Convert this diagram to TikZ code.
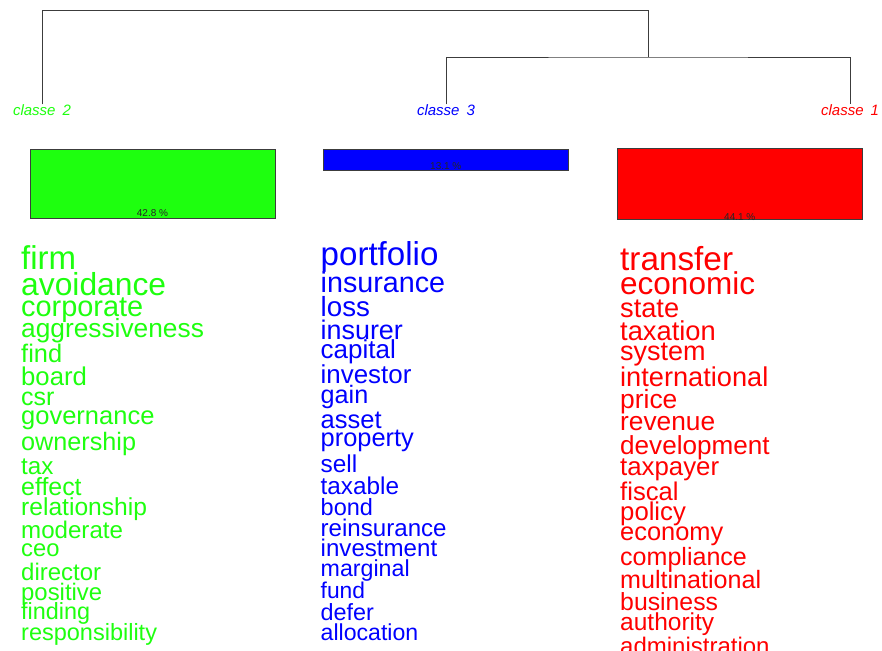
\documentclass[tikz,border=0pt]{standalone}
\usepackage{fontspec}
\setmainfont{Liberation Sans}
\usetikzlibrary{calc}
\definecolor{cgreen}{RGB}{30,255,15}
\definecolor{cblue}{RGB}{0,0,255}
\definecolor{cred}{RGB}{255,0,0}
\definecolor{tree}{RGB}{60,60,60}
\tikzset{
  dendro/.style={draw=tree, line width=0.9pt},
  classlabel/.style={anchor=base, inner sep=0pt, font=\fontsize{15}{15}\selectfont\itshape},
  barbox/.style={draw=tree, line width=0.8pt, rectangle, inner sep=0pt},
  pct/.style={anchor=base, inner sep=0pt, text=black!85, font=\fontsize{10}{10}\selectfont},
  word/.style={anchor=base west, inner sep=0pt}
}
\begin{document}
\begin{tikzpicture}[x=1pt,y=-1pt]
\useasboundingbox (0,0) rectangle (882,650);
\clip (0,0) rectangle (882,650);
\fill[white] (0,0) rectangle (882,650);

% class labels
\node[classlabel, text=cgreen] (c2) at (42,115.5) {classe\hspace{7pt}2};
\node[classlabel, text=cblue] (c3) at (446,115.5) {classe\hspace{7pt}3};
\node[classlabel, text=cred] (c1) at (850,115.5) {classe\hspace{7pt}1};

% dendrogram
\coordinate (j1) at (648,10);
\coordinate (j2) at (648,57);
\draw[dendro] (c2.north) |- (j1) -- (j2);
\draw[dendro] (c3.north) |- (j2) -| (c1.north);

% bars
\node[barbox, fill=cgreen, minimum width=245pt, minimum height=69pt] (b2) at (152.5,183.5) {};
\node[barbox, fill=cblue, minimum width=245pt, minimum height=21pt] (b3) at (445.8,159.5) {};
\node[barbox, fill=cred, minimum width=245pt, minimum height=70.5pt] (b1) at (739.8,183.7) {};
\node[pct] (p2) at ($(b2.south)+(0,-1.5)$) {42.8 \%};
\node[pct] (p3) at ($(b3.south)+(0,-0.7)$) {13.1 \%};
\node[pct] (p1) at ($(b1.south)+(0,1)$) {44.1 \%};

% green words
\foreach \t/\s/\y [count=\i] in {
 firm/33/269.5, avoidance/31.8/295, corporate/28.9/316, aggressiveness/26.3/337.7,
 find/25.4/362.7, board/25.7/385, csr/25/405, governance/25.5/424,
 ownership/25.2/450.5, tax/24.2/474, effect/24.9/495, relationship/24.6/515,
 moderate/24.1/538, ceo/23.8/556.7, director/24/580, positive/23.9/600,
 finding/23.4/619.3, responsibility/23.5/640.7}
 \node[word, text=cgreen, font=\fontsize{\s}{\s}\selectfont] (g\i) at (21,\y) {\t};

% blue words
\foreach \t/\s/\y [count=\i] in {
 portfolio/33.1/265.7, insurance/28.7/292.7, loss/27.7/316, insurer/26.9/339,
 capital/26/358.3, investor/25.9/383, gain/25.2/403, asset/25.5/428.3,
 property/25.4/446.7, sell/24.4/472.7, taxable/24.3/494, bond/23.5/515,
 reinsurance/24.1/536.7, investment/24.1/556.7, marginal/23.2/576.7, fund/22.8/598.3,
 defer/23.4/620, allocation/23.1/640}
 \node[word, text=cblue, font=\fontsize{\s}{\s}\selectfont] (u\i) at (320.5,\y) {\t};

% red words
\foreach \t/\s/\y [count=\i] in {
 transfer/33.3/270.7, economic/31.5/294.3, state/27.2/317.3, taxation/27.3/340.7,
 system/27/360, international/27.2/386.7, price/26.4/408.3, revenue/26.3/430,
 development/26.1/454, taxpayer/25.8/475, fiscal/25.6/500.7, policy/25.7/520,
 economy/25.4/540, compliance/25.05/565, multinational/25.1/588.3, business/24.8/610,
 authority/24.5/630, administration/24/654.5}
 \node[word, text=cred, font=\fontsize{\s}{\s}\selectfont] (r\i) at (620,\y) {\t};
\end{tikzpicture}
\end{document}
